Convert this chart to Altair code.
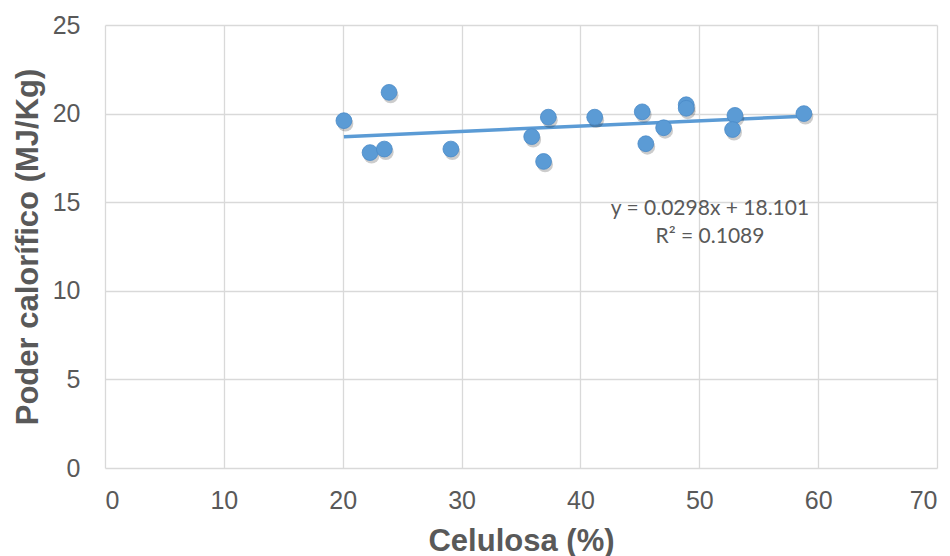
import altair as alt
import pandas as pd

# Celulosa (%) vs poder calorífico (MJ/Kg)
celulosa = [20.1, 23.9, 22.3, 23.5, 29.1, 35.9, 37.3, 36.9, 41.2,
            45.2, 47.0, 45.5, 48.9, 48.9, 53.0, 52.8, 58.8]
poder = [19.6, 21.2, 17.8, 18.0, 18.0, 18.7, 19.8, 17.3, 19.8,
         20.1, 19.2, 18.3, 20.5, 20.3, 19.9, 19.1, 20.0]

# Linear trendline coefficients
slope = 0.0298
intercept = 18.101
r2 = 0.1089

x_ticks = [0, 10, 20, 30, 40, 50, 60, 70]
y_ticks = [0, 5, 10, 15, 20, 25]

df = pd.DataFrame({"celulosa": celulosa, "poder": poder})
x_lo, x_hi = min(celulosa), max(celulosa)
trend = pd.DataFrame({
    "celulosa": [x_lo, x_hi],
    "poder": [slope * x_lo + intercept, slope * x_hi + intercept],
})

blue = "#5b9bd5"
grid = "#d9d9d9"
label_color = "#595959"
W, H = 832, 443

x_enc = alt.X(
    "celulosa:Q",
    scale=alt.Scale(domain=[0, 70], nice=False),
    axis=alt.Axis(
        values=x_ticks, title="Celulosa (%)", ticks=False, domain=False,
        gridColor=grid, gridWidth=1.3,
        labelFont="Liberation Sans", labelFontSize=25, labelColor=label_color,
        labelPadding=20,
        titleFont="Liberation Sans", titleFontSize=31, titleFontWeight="bold",
        titleColor=label_color, titleX=W / 2, titleY=82,
        titleAlign="center", titleBaseline="alphabetic",
    ),
)
y_enc = alt.Y(
    "poder:Q",
    scale=alt.Scale(domain=[0, 25], nice=False),
    axis=alt.Axis(
        values=y_ticks, title="Poder calorífico (MJ/Kg)", ticks=False, domain=False,
        gridColor=grid, gridWidth=1.3,
        labelFont="Liberation Sans", labelFontSize=25, labelColor=label_color,
        labelPadding=25,
        titleFont="Liberation Sans", titleFontSize=31, titleFontWeight="bold",
        titleColor=label_color, titleX=-77, titleY=H / 2, titleAngle=-90,
        titleAlign="center", titleBaseline="middle",
    ),
)

shadow = alt.Chart(df).mark_circle(
    size=250, color="#000000", opacity=0.2, xOffset=1.5, yOffset=3
).encode(x=x_enc, y=y_enc)

points = alt.Chart(df).mark_circle(
    size=250, color=blue, opacity=1, stroke="#4a8ac8", strokeWidth=0.8
).encode(x=x_enc, y=y_enc)

line = alt.Chart(trend).mark_line(color=blue, strokeWidth=3.5).encode(
    x="celulosa:Q", y="poder:Q"
)

eq_df = pd.DataFrame({
    "celulosa": [50.9, 50.9],
    "poder": [14.62, 13.04],
    "txt": [f"y = {slope}x + {intercept}", f"R² = {r2}"],
})
eq = alt.Chart(eq_df).mark_text(
    font="Lato", fontSize=21, color=label_color, align="center", baseline="middle"
).encode(x="celulosa:Q", y="poder:Q", text="txt:N")

chart = (
    alt.layer(line, shadow, points, eq)
    .properties(
        width=W, height=H,
        autosize=alt.AutoSizeParams(type="none"),
        padding={"left": 105, "top": 25, "right": 13, "bottom": 88},
        background="white",
    )
    .configure_view(stroke=None)
)

chart.save("out.html", embed_options={"renderer": "svg", "actions": False})
